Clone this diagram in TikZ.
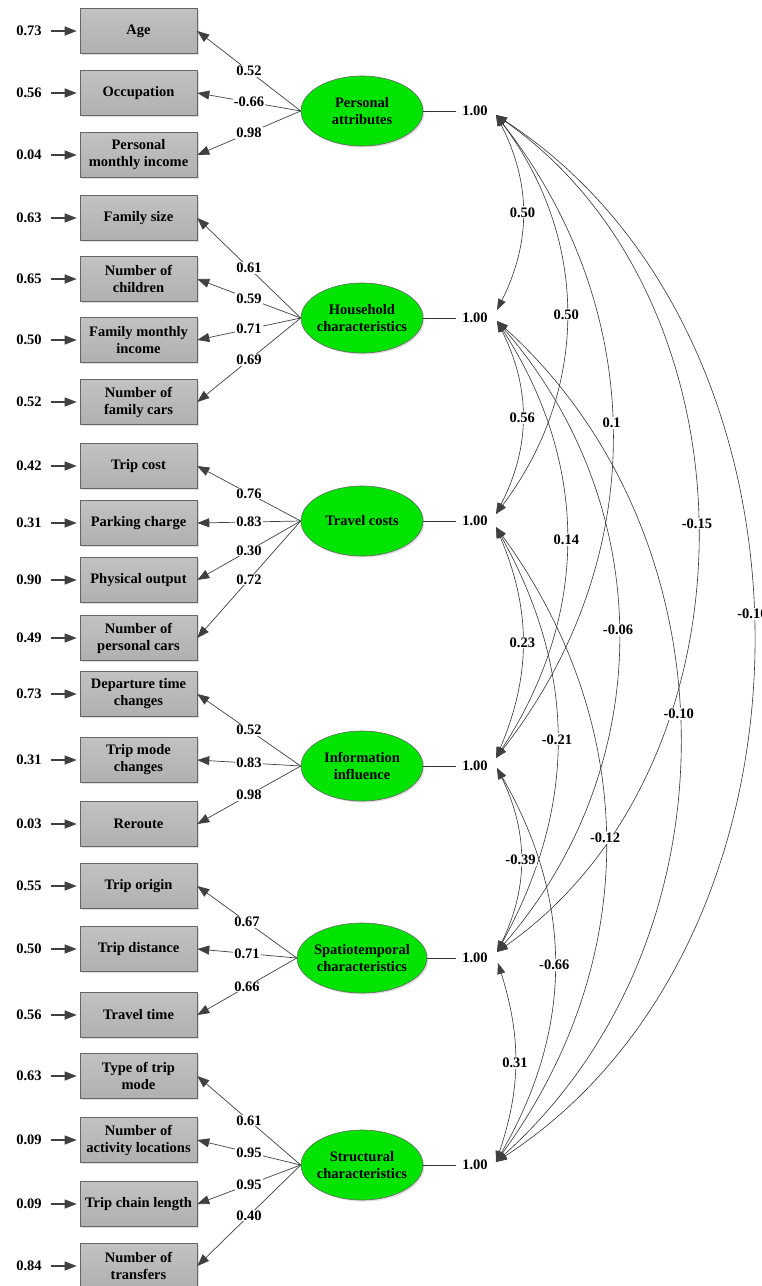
\documentclass[tikz,border=0pt]{standalone}
\usepackage{fontspec}
\setmainfont{Liberation Serif}
\usetikzlibrary{arrows.meta,shapes.geometric,shadows}
\definecolor{factgreen}{RGB}{0,228,0}
\definecolor{tipgray}{RGB}{64,64,64}

\begin{document}
\begin{tikzpicture}[x=0.5pt, y=-0.5pt, font=\fontsize{7.25}{8.5}\selectfont\bfseries,
		obs/.style={draw=black!60, line width=0.3pt, top color=black!24, bottom color=black!31, minimum width=58.5pt, minimum height=22.5pt, inner sep=1pt, align=center, drop shadow={opacity=0.25, shadow xshift=0.75pt, shadow yshift=-0.75pt}},
		latent/.style={ellipse, draw=black!60, line width=0.3pt, fill=factgreen, minimum width=61pt, minimum height=35pt, inner xsep=-1pt, align=center, drop shadow={opacity=0.25, shadow xshift=0.75pt, shadow yshift=-0.75pt}},
		coef/.style={fill=white, inner sep=0.5pt},
		errline/.style={draw=tipgray, line width=0.6pt, shorten <=1pt, shorten >=1.5pt, -{Triangle[length=6pt,width=4.5pt]}},
		loadline/.style={draw=tipgray, line width=0.35pt, -{Triangle[length=6pt,width=4.5pt]}},
		corr/.style={draw=black!80, line width=0.3pt, {Triangle[length=5.5pt,width=4pt,color=tipgray]}-{Triangle[length=5.5pt,width=4pt,color=tipgray]}},
		varline/.style={draw=black!80, line width=0.3pt}]
		\useasboundingbox (0,0) rectangle (761,1286);
		% observed variables
		\node[obs] (age) at (138.5,31) {Age};
		\node[obs] (occ) at (138.5,93) {Occupation};
		\node[obs] (pmi) at (138.5,155) {Personal\\monthly income};
		\node[obs] (fsize) at (138.5,218) {Family size};
		\node[obs] (nchild) at (138.5,279) {Number of\\children};
		\node[obs] (finc) at (138.5,340) {Family monthly\\income};
		\node[obs] (fcars) at (138.5,402) {Number of\\family cars};
		\node[obs] (tcost) at (138.5,466) {Trip cost};
		\node[obs] (park) at (138.5,523) {Parking charge};
		\node[obs] (phys) at (138.5,580) {Physical output};
		\node[obs] (pcars) at (138.5,638) {Number of\\personal cars};
		\node[obs] (dep) at (138.5,694) {Departure time\\changes};
		\node[obs] (tmc) at (138.5,760) {Trip mode\\changes};
		\node[obs] (rrt) at (138.5,824) {Reroute};
		\node[obs] (orig) at (138.5,886) {Trip origin};
		\node[obs] (tdist) at (138.5,949) {Trip distance};
		\node[obs] (ttime) at (138.5,1015) {Travel time};
		\node[obs] (ttype) at (138.5,1076) {Type of trip\\mode};
		\node[obs] (actloc) at (138.5,1140) {Number of\\activity locations};
		\node[obs] (chain) at (138.5,1204) {Trip chain length};
		\node[obs] (transf) at (138.5,1266) {Number of\\transfers};
		% error terms
		\foreach \v/\e/\y in {age/0.73/31, occ/0.56/93, pmi/0.04/155, fsize/0.63/218, nchild/0.65/279, finc/0.50/340, fcars/0.52/402, tcost/0.42/466, park/0.31/523, phys/0.90/580, pcars/0.49/638, dep/0.73/694, tmc/0.31/760, rrt/0.03/824, orig/0.55/886, tdist/0.50/949, ttime/0.56/1015, ttype/0.63/1076, actloc/0.09/1140, chain/0.09/1204, transf/0.84/1266}{
			\node (e-\v) at (29,\y) {\e};
			\draw[errline] (e-\v) -- (\v);
		}
		% latent factors
		\node[latent] (pa) at (362,111) {Personal\\attributes};
		\node[latent] (hc) at (362,318) {Household\\characteristics};
		\node[latent] (tc) at (362,521) {Travel costs};
		\node[latent] (ii) at (362,766) {Information\\influence};
		\node[latent] (sc) at (362,958) {Spatiotemporal\\characteristics};
		\node[latent] (st) at (362,1165) {Structural\\characteristics};
		% loadings
		\draw[loadline] (pa.west) -- node[coef]{0.52} (age.east);
		\draw[loadline] (pa.west) -- node[coef]{-0.66} (occ.east);
		\draw[loadline] (pa.west) -- node[coef]{0.98} (pmi.east);
		\draw[loadline] (hc.west) -- node[coef]{0.61} (fsize.east);
		\draw[loadline] (hc.west) -- node[coef]{0.59} (nchild.east);
		\draw[loadline] (hc.west) -- node[coef]{0.71} (finc.east);
		\draw[loadline] (hc.west) -- node[coef]{0.69} (fcars.east);
		\draw[loadline] (tc.west) -- node[coef]{0.76} (tcost.east);
		\draw[loadline] (tc.west) -- node[coef]{0.83} (park.east);
		\draw[loadline] (tc.west) -- node[coef]{0.30} (phys.east);
		\draw[loadline] (tc.west) -- node[coef]{0.72} (pcars.east);
		\draw[loadline] (ii.west) -- node[coef]{0.52} (dep.east);
		\draw[loadline] (ii.west) -- node[coef]{0.83} (tmc.east);
		\draw[loadline] (ii.west) -- node[coef]{0.98} (rrt.east);
		\draw[loadline] (sc.west) -- node[coef]{0.67} (orig.east);
		\draw[loadline] (sc.west) -- node[coef]{0.71} (tdist.east);
		\draw[loadline] (sc.west) -- node[coef]{0.66} (ttime.east);
		\draw[loadline] (st.west) -- node[coef]{0.61} (ttype.east);
		\draw[loadline] (st.west) -- node[coef]{0.95} (actloc.east);
		\draw[loadline] (st.west) -- node[coef]{0.95} (chain.east);
		\draw[loadline] (st.west) -- node[coef]{0.40} (transf.east);
		% factor variances
		\foreach \f/\y in {pa/111, hc/318, tc/521, ii/766, sc/958, st/1165}{
			\node[inner xsep=3pt] (v-\f) at (475,\y) {1.00};
			\draw[varline] (\f) -- (v-\f);
		}
		% curve ends
		\coordinate (pB) at (496,115);
		\coordinate (hA) at (497,310);
		\coordinate (hB) at (497,321);
		\coordinate (tA) at (496,514);
		\coordinate (tB) at (496,527);
		\coordinate (iA) at (496,758);
		\coordinate (iB) at (497,768);
		\coordinate (sA) at (497,952);
		\coordinate (sB) at (498,963);
		\coordinate (stA) at (496,1162);
		% correlations
		\draw[corr] (pB) to[bend left=27] node[coef]{0.50} (hA);
		\draw[corr] (pB) to[bend left=37] node[coef]{0.50} (tA);
		\draw[corr] (hB) to[bend left=27] node[coef]{0.56} (tA);
		\draw[corr] (pB) to[bend left=38] node[coef, pos=0.48]{0.1} (iA);
		\draw[corr] (hB) to[bend left=33] node[coef]{0.14} (iA);
		\draw[corr] (tB) to[bend left=23] node[coef]{0.23} (iA);
		\draw[corr] (pB) to[bend left=55] node[coef, pos=0.49]{-0.15} (sA);
		\draw[corr] (hB) to[bend left=41] node[coef, pos=0.49]{-0.06} (sA);
		\draw[corr] (tB) to[bend left=29] node[coef]{-0.21} (sA);
		\draw[corr] (iB) to[bend left=26] node[coef]{-0.39} (sA);
		\draw[corr] (pB) to[bend left=57] node[coef, pos=0.48]{-0.10} (stA);
		\draw[corr] (hB) to[bend left=48] node[coef, pos=0.47]{-0.10} (stA);
		\draw[corr] (tB) to[bend left=36] node[coef, pos=0.49]{-0.12} (stA);
		\draw[corr] (iB) to[bend left=30] node[coef]{-0.66} (stA);
		\draw[corr] (sB) to[bend left=18] node[coef]{0.31} (stA);
	\end{tikzpicture}
\end{document}
